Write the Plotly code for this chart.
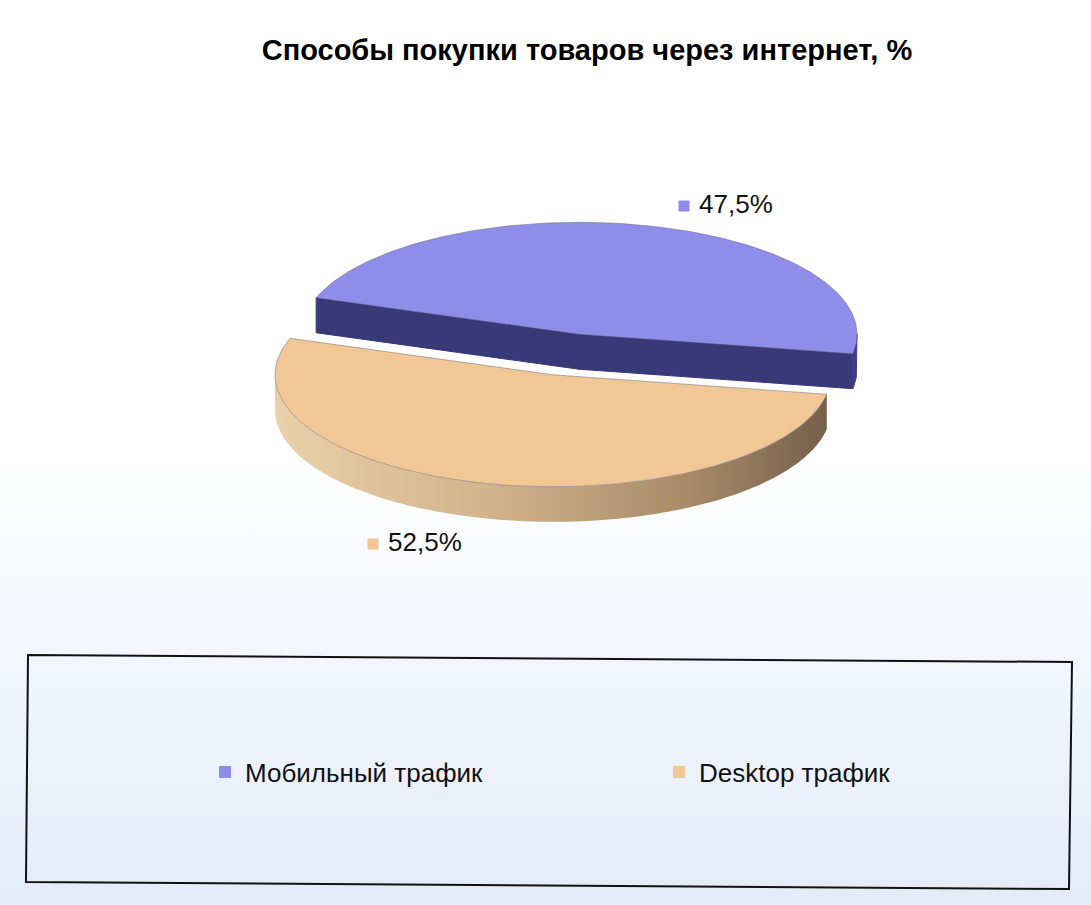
import numpy as np
import plotly.graph_objects as go

# data
categories = ["Мобильный трафик", "Desktop трафик"]
shares = [47.5, 52.5]
share_labels = ["47,5%", "52,5%"]
top_colors = ["#8e8eea", "#f0c795"]
side_colors = ["#393878", "#c9a883"]

# canvas / pie geometry (pixels)
W, H = 1091, 905
CX, CY = 566, 354.5
RX, RY = 278, 112
DEPTH = 35
EXPLODE = 52
START = -10
LABEL_XY = [(684, 206), (373, 544)]
LEGEND_X = [205, 659]

rim_gradient = [[0, "#ead0aa"], [0.4, "#d2b28b"], [0.75, "#a88a68"], [1, "#76604a"]]


def ell(t, cx, cy, k=0.0):
    r = np.radians(t)
    return cx + RX * np.cos(r), cy - RY * np.sin(r) + k


fig = go.Figure()

# page background, white fading into light blue
fig.add_trace(go.Scatter(
    x=[0, W, W, 0, 0], y=[0, 0, H, H, 0], mode="none", fill="toself",
    fillgradient=dict(type="vertical", start=0, stop=H,
                      colorscale=[[0, "#ffffff"], [0.5, "#ffffff"],
                                  [0.7, "#f4f7fd"], [1, "#e4ebf8"]]),
    hoverinfo="skip", showlegend=False))

spans = 360 * np.array(shares) / sum(shares)
t_start = START + np.concatenate([[0], np.cumsum(spans)[:-1]])
mids = t_start + spans / 2
order = np.argsort(-np.sin(np.radians(mids)))  # back slices first

for i in order:
    t0, t1, m = t_start[i], t_start[i] + spans[i], mids[i]
    cx = CX + EXPLODE * np.cos(np.radians(m))
    cy = CY - EXPLODE * RY / RX * np.sin(np.radians(m))

    # radial cut faces that face the viewer
    for t, sgn in ((t0, -90), (t1, 90)):
        if np.sin(np.radians(t + sgn)) < 0:
            ex, ey = ell(t, cx, cy)
            fig.add_trace(go.Scatter(
                x=[cx, ex, ex, cx, cx], y=[cy, ey, ey + DEPTH, cy + DEPTH, cy],
                mode="lines", fill="toself", fillcolor=side_colors[i],
                line=dict(color=side_colors[i], width=1),
                hoverinfo="skip", showlegend=False))

    # front part of the outer rim
    for k in (-360, 0, 360):
        a0, a1 = max(t0, 180 + k), min(t1, 360 + k)
        if a1 <= a0:
            continue
        ts = np.linspace(a0, a1, 100)
        xs, ys = ell(ts, cx, cy)
        rx = np.concatenate([xs, xs[::-1], xs[:1]])
        ry = np.concatenate([ys, ys[::-1] + DEPTH, ys[:1]])
        if i == 1:
            fig.add_trace(go.Scatter(
                x=rx, y=ry, mode="none", fill="toself",
                fillgradient=dict(type="horizontal", colorscale=rim_gradient),
                hoverinfo="skip", showlegend=False))
        else:
            fig.add_trace(go.Scatter(
                x=rx, y=ry, mode="lines", fill="toself", fillcolor="#3f3e8e",
                line=dict(color="#3f3e8e", width=1),
                hoverinfo="skip", showlegend=False))

    # top face
    ts = np.linspace(t0, t1, 200)
    xs, ys = ell(ts, cx, cy)
    fig.add_trace(go.Scatter(
        x=np.concatenate([[cx], xs, [cx]]), y=np.concatenate([[cy], ys, [cy]]),
        mode="lines", fill="toself", fillcolor=top_colors[i],
        line=dict(color="rgba(95,95,115,0.45)", width=1),
        name=categories[i], hoverinfo="skip", showlegend=False))

# data labels with colour keys
for i in range(len(shares)):
    fig.add_trace(go.Scatter(
        x=[LABEL_XY[i][0]], y=[LABEL_XY[i][1]], mode="markers+text",
        marker=dict(symbol="square", size=11, color=top_colors[i]),
        text=["\u00a0" + share_labels[i]], textposition="middle right",
        textfont=dict(size=26, color="#111111"),
        hoverinfo="skip", showlegend=False))

# legend entries, one legend each so they sit where the original has them
legend_names = ["legend", "legend2"]
for i in range(len(shares)):
    fig.add_trace(go.Scatter(
        x=[None], y=[None], mode="markers", name=categories[i],
        legend=legend_names[i],
        marker=dict(symbol="square", size=12, color=top_colors[i])))

legend_style = dict(orientation="h", xanchor="left", y=1 - 772 / H, yanchor="middle",
                    font=dict(size=26, color="#111111"), bgcolor="rgba(0,0,0,0)")

fig.update_layout(
    width=W, height=H,
    margin=dict(l=0, r=0, t=0, b=0),
    paper_bgcolor="white", plot_bgcolor="white",
    font=dict(family="Liberation Sans, Arial, sans-serif", color="#111111"),
    title=dict(text="<b>Способы покупки товаров через интернет, %</b>",
               x=0.538, xanchor="center", y=1 - 50 / H, yanchor="middle",
               font=dict(size=29, color="#000000")),
    xaxis=dict(range=[0, W], visible=False, fixedrange=True),
    yaxis=dict(range=[H, 0], visible=False, fixedrange=True),
    legend=dict(x=LEGEND_X[0] / W, **legend_style),
    legend2=dict(x=LEGEND_X[1] / W, **legend_style),
    shapes=[dict(type="path", xref="x", yref="y",
                 path="M 28,655 L 1072,662 L 1069,889 L 26,882 Z",
                 line=dict(color="#111111", width=2))],
)

fig.write_html("out.html", config={"displayModeBar": False},
               post_script="document.body.style.margin='0';")
